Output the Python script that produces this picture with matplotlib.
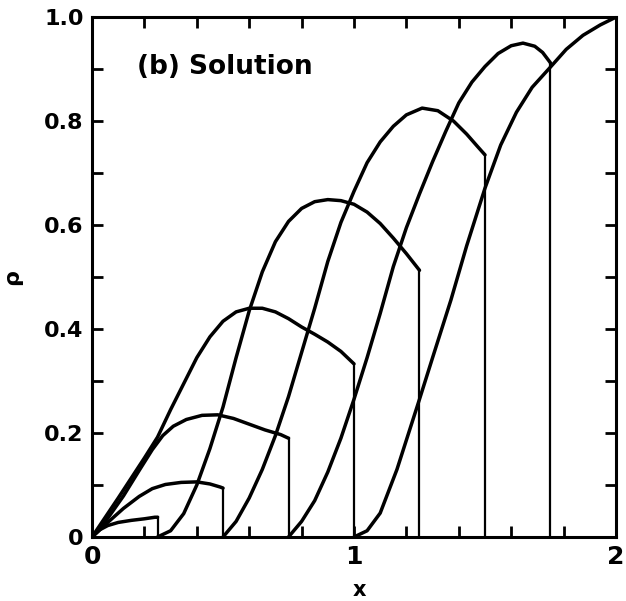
import matplotlib
matplotlib.use("Agg")
import matplotlib.pyplot as plt
import numpy as np

# density profiles rho(x) at successive times; each ends in a shock
s1_x = [0.0, 0.03, 0.06, 0.10, 0.15, 0.20, 0.24, 0.25]
s1_rho = [0.0, 0.014, 0.022, 0.028, 0.032, 0.035, 0.038, 0.038]

s2_x = [0.0, 0.06, 0.12, 0.18, 0.23, 0.28, 0.34, 0.40, 0.45, 0.49, 0.50]
s2_rho = [0.0, 0.028, 0.055, 0.078, 0.093, 0.101, 0.105, 0.106, 0.102, 0.096, 0.094]

s3_x = [0.0, 0.06, 0.12, 0.18, 0.23, 0.27, 0.31, 0.36, 0.42, 0.48, 0.54, 0.60, 0.66, 0.72, 0.75]
s3_rho = [0.0, 0.036, 0.079, 0.128, 0.168, 0.195, 0.213, 0.226, 0.234, 0.235, 0.228, 0.217, 0.206, 0.197, 0.19]

s4_x = [0.0, 0.10, 0.20, 0.25, 0.30, 0.35, 0.40, 0.45, 0.50, 0.55, 0.60, 0.65, 0.70, 0.75,
        0.80, 0.85, 0.90, 0.95, 1.0]
s4_rho = [0.0, 0.075, 0.152, 0.192, 0.245, 0.295, 0.345, 0.385, 0.415, 0.433, 0.440, 0.440,
          0.433, 0.420, 0.404, 0.390, 0.375, 0.357, 0.333]

s5_x = [0.25, 0.30, 0.35, 0.40, 0.45, 0.50, 0.55, 0.60, 0.65, 0.70, 0.75, 0.80, 0.85, 0.90,
        0.95, 1.00, 1.05, 1.10, 1.15, 1.20, 1.25]
s5_rho = [0.0, 0.012, 0.045, 0.100, 0.170, 0.250, 0.345, 0.435, 0.510, 0.568, 0.607, 0.632,
          0.645, 0.649, 0.647, 0.640, 0.625, 0.603, 0.575, 0.545, 0.513]

s6_x = [0.50, 0.55, 0.60, 0.65, 0.70, 0.75, 0.80, 0.85, 0.90, 0.95, 1.00, 1.05, 1.10, 1.15,
        1.20, 1.26, 1.32, 1.38, 1.43, 1.47, 1.50]
s6_rho = [0.0, 0.030, 0.075, 0.130, 0.195, 0.270, 0.355, 0.440, 0.530, 0.605, 0.665, 0.720,
          0.760, 0.790, 0.812, 0.825, 0.820, 0.800, 0.775, 0.752, 0.735]

s7_x = [0.75, 0.80, 0.85, 0.90, 0.95, 1.00, 1.05, 1.10, 1.15, 1.20, 1.25, 1.30, 1.35, 1.40,
        1.45, 1.50, 1.55, 1.60, 1.645, 1.69, 1.72, 1.75]
s7_rho = [0.0, 0.030, 0.070, 0.125, 0.190, 0.265, 0.345, 0.430, 0.520, 0.595, 0.660, 0.722,
          0.780, 0.835, 0.875, 0.905, 0.930, 0.945, 0.950, 0.944, 0.932, 0.912]

s8_x = [1.0, 1.05, 1.10, 1.164, 1.25, 1.30, 1.37, 1.43, 1.50, 1.56, 1.62, 1.68, 1.75, 1.81,
        1.874, 1.94, 2.0]
s8_rho = [0.0, 0.012, 0.046, 0.130, 0.265, 0.345, 0.456, 0.560, 0.671, 0.754, 0.817, 0.865,
          0.904, 0.938, 0.965, 0.985, 1.0]

profiles_x = [s1_x, s2_x, s3_x, s4_x, s5_x, s6_x, s7_x, s8_x]
profiles_rho = [s1_rho, s2_rho, s3_rho, s4_rho, s5_rho, s6_rho, s7_rho, s8_rho]
shock_x = [0.25, 0.5, 0.75, 1.0, 1.25, 1.5, 1.75]

fig = plt.figure(figsize=(6.26, 6.01), dpi=100)
ax = fig.add_axes([0.147, 0.1065, 0.837, 0.865])

for px, pr in zip(profiles_x, profiles_rho):
    ax.plot(px, pr, color="black", lw=2.5, solid_capstyle="round", solid_joinstyle="round")

# vertical shock fronts down to rho = 0
for xs, pr in zip(shock_x, profiles_rho):
    ax.plot([xs, xs], [pr[-1], 0.0], color="black", lw=1.6)

ax.set_xlim(0, 2)
ax.set_ylim(0, 1)
ax.set_xticks([0, 1, 2])
ax.set_xticklabels(["0", "1", "2"])
ax.set_xticks(np.arange(0.2, 2.0, 0.2), minor=True)
ax.set_yticks([0, 0.2, 0.4, 0.6, 0.8, 1.0])
ax.set_yticklabels(["0", "0.2", "0.4", "0.6", "0.8", "1.0"])
ax.set_yticks(np.arange(0.1, 1.0, 0.2), minor=True)

for side in ax.spines.values():
    side.set_linewidth(2.2)
ax.tick_params(which="both", direction="in", top=True, right=True,
               length=8, width=2, pad=6)
ax.tick_params(axis="x", labelsize=18)
ax.tick_params(axis="y", labelsize=16)
for lab in ax.get_xticklabels() + ax.get_yticklabels():
    lab.set_fontweight("bold")

ax.set_xlabel("x", fontsize=15, fontweight="bold")
ax.set_ylabel("ρ", fontsize=16, fontweight="bold")
ax.xaxis.set_label_coords(0.51, -0.083)
ax.yaxis.set_label_coords(-0.134, 0.5)
ax.text(0.17, 0.905, "(b) Solution", fontsize=19, fontweight="bold",
        transform=ax.transData, va="center", ha="left")

fig.savefig("out.png", dpi=100)
